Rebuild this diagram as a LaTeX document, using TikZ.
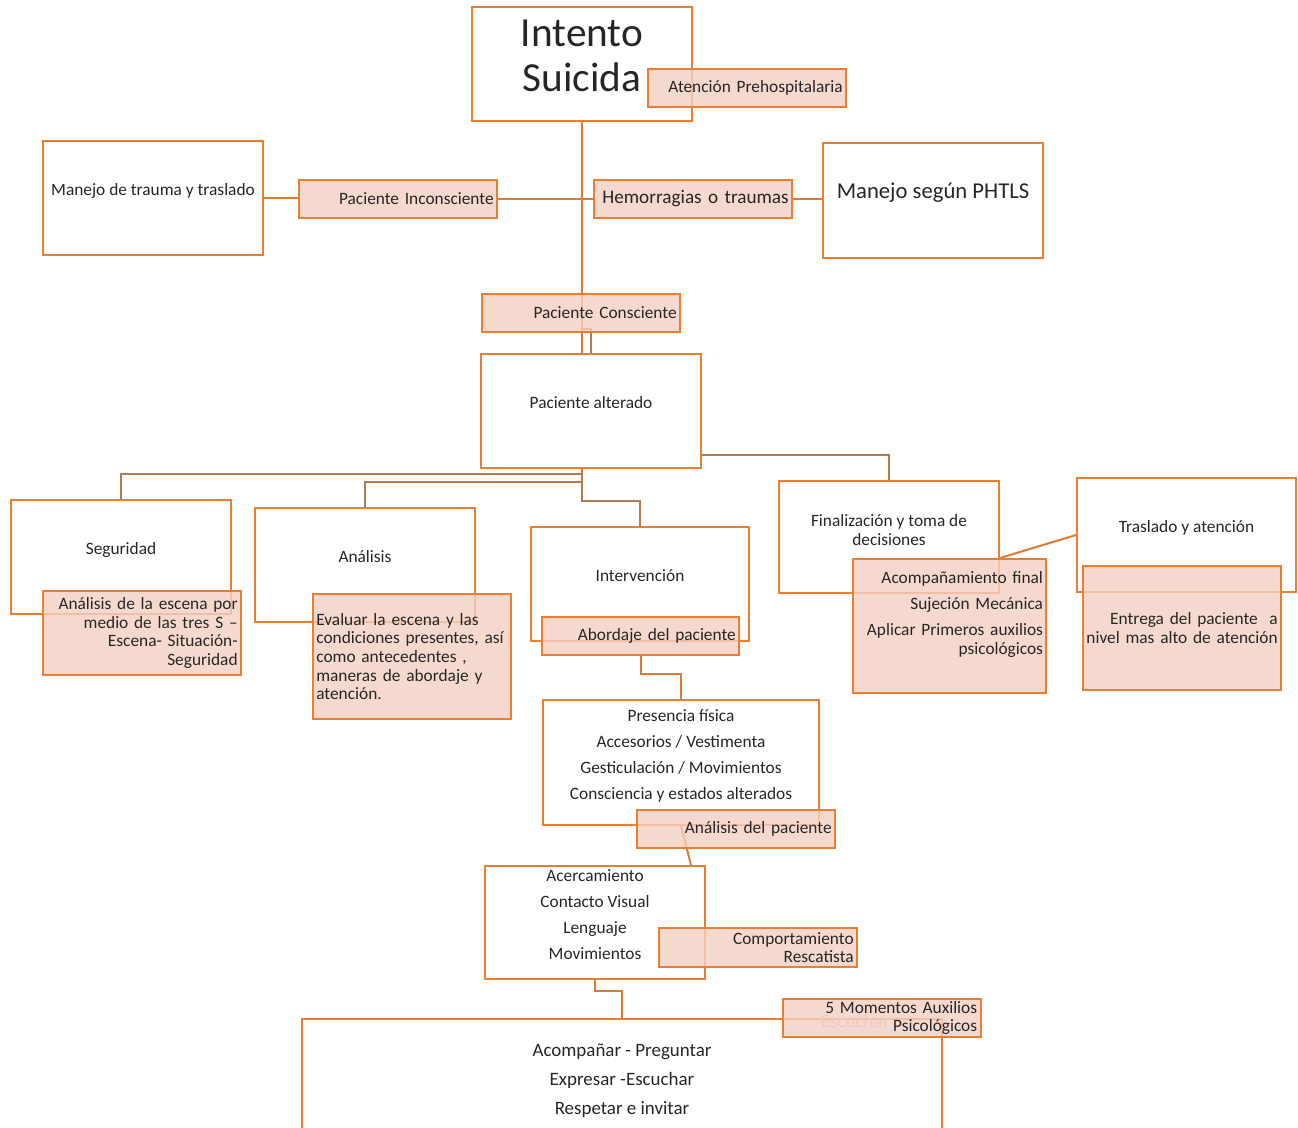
\documentclass[tikz,border=0pt]{standalone}
\usepackage{fontspec}
\setmainfont{Carlito}
\usetikzlibrary{positioning,backgrounds}
\definecolor{boxorange}{HTML}{ED7D31}
\definecolor{tagpink}{HTML}{F4CFC2}
\definecolor{linkorange}{HTML}{DD7A36}
\definecolor{linkbrown}{HTML}{B47A52}
\definecolor{txt}{HTML}{262626}

\begin{document}
\begin{tikzpicture}[x=0.75pt,y=-0.75pt,
  main node/.style={draw=boxorange,line width=1.5pt,inner sep=0pt,minimum width=165pt,minimum height=85.5pt,align=center,text=txt,font=\fontsize{13}{14}\selectfont},
  lift/.style={text height=6pt,text depth=9.5pt},
  tag node/.style={draw=boxorange,line width=1.5pt,fill=tagpink,fill opacity=.8,text opacity=1,inner xsep=2.5pt,inner ysep=0pt,text width=143.5pt,minimum height=28.5pt,align=right,text=txt,font=\fontsize{13}{14}\selectfont},
  link/.style={draw=linkorange,line width=1.5pt},
  twig/.style={draw=linkbrown,line width=1.5pt}]
  \useasboundingbox (0,0) rectangle (1298,1127);
  % white boxes
  \node[main node,font=\fontsize{31}{34}\selectfont] (suicida) at (582,64) {Intento\\Suicida\\[-32.2pt]\strut};
  \node[main node,lift] (trauma) at (153,198) {Manejo de trauma y traslado};
  \node[main node,lift,font=\fontsize{17}{20}\selectfont] (phtls) at (933,200.5) {Manejo según PHTLS};
  \node[main node,lift] (alterado) at (591,411) {Paciente alterado};
  \node[main node,lift] (seguridad) at (121,556.5) {Seguridad};
  \node[main node,lift] (analisis) at (365,565) {Análisis};
  \node[main node,lift,minimum width=163.5pt] (interv) at (640,584) {Intervención};
  \node[main node,minimum height=84pt] (final) at (889,537) {Finalización y toma de\\decisiones\\[-7.7pt]\strut};
  \node[main node,lift,minimum width=164.25pt] (traslado) at (1186.5,535) {Traslado y atención};
  \node[main node,minimum width=207pt,minimum height=93.75pt,font=\fontsize{13}{19.5}\selectfont] (presencia) at (681,762.5)
    {Presencia física\\Accesorios / Vestimenta\\Gesticulación / Movimientos\\Consciencia y estados alterados\\[-13.75pt]\strut};
  \node[main node,minimum height=84.75pt,font=\fontsize{13}{19.5}\selectfont] (acerc) at (595,922.5)
    {Acercamiento\\Contacto Visual\\Lenguaje\\Movimientos\\[-13.35pt]\strut};
  \node[main node,minimum width=480pt,minimum height=93pt,font=\fontsize{14.2}{21.75}\selectfont] (momentos) at (622,1080.5)
    {Acompañar - Preguntar\\Expresar -Escuchar\\Respetar e invitar};
  \node[text=gray!50,font=\fontsize{14.2}{17}\selectfont] (escuchar) at (855,1021) {Escuchar};
  % pink tags
  \node[tag node] (prehosp) at (747,88) {Atención Prehospitalaria};
  \node[tag node] (inconsc) at (398,198.5) {Paciente Inconsciente};
  \node[tag node,font=\fontsize{14.4}{16}\selectfont] (hemorr) at (693,199) {Hemorragias o traumas};
  \node[tag node] (consc) at (581,313) {Paciente Consciente};
  \node[tag node,minimum height=63pt] (escena) at (142,633)
    {Análisis de la escena por\\medio de las tres S –\\Escena- Situación-\\Seguridad};
  \node[tag node,minimum height=93.75pt,align=left] (evaluar) at (412,656.5)
    {Evaluar la escena y las\\condiciones presentes, así\\como antecedentes ,\\maneras de abordaje y\\atención.};
  \node[tag node,text width=143pt] (abordaje) at (640.5,636) {Abordaje del paciente};
  \node[tag node,text width=140.25pt,minimum height=100.5pt] (acomp) at (949.5,626)
    {Acompañamiento final\\[5.5pt]Sujeción Mecánica\\[5.5pt]Aplicar Primeros auxilios\\psicológicos\\[1.5pt]\strut};
  \node[tag node,minimum height=93pt] (entrega) at (1182,628) {Entrega del paciente~ a\\nivel mas alto de atención};
  \node[tag node] (analpac) at (736,829) {Análisis del paciente};
  \node[tag node,minimum height=29.25pt] (comport) at (758,947.5) {Comportamiento\\Rescatista};
  \node[tag node] (cinco) at (881.5,1018) {5 Momentos Auxilios\\Psicológicos};
  % connectors
  \begin{scope}[on background layer]
    \draw[link] (suicida.south) -- (suicida.south |- alterado.north);
    \draw[twig] ([yshift=3pt]consc.south) -| (alterado.north);
    \draw[link] (trauma.east) -- (trauma.east -| inconsc.west);
    \draw[link] (inconsc.east) -- (inconsc.east -| hemorr.west);
    \draw[link] (hemorr.east) -- (hemorr.east -| phtls.west);
    \coordinate (fork) at (suicida.south |- alterado.south);
    \draw[twig] (fork) -- ++(0,5) -| (seguridad.north);
    \draw[twig] (fork) -- ++(0,13) -| (analisis.north);
    \draw[twig] (fork) -- ++(0,32) -| (interv.north);
    \draw[twig] ([yshift=10.5pt]alterado.south east) -| (final.north);
    \draw[link] (final.east |- acomp.north) -- (traslado.west);
    \draw[link] (abordaje.south) -- ++(0,18) -| (presencia.north);
    \draw[link] (presencia.south) -- ([xshift=-11.25pt]acerc.north east);
    \draw[link] (acerc.south) -- ++(0,11) -| (momentos.north);
  \end{scope}
\end{tikzpicture}
\end{document}
